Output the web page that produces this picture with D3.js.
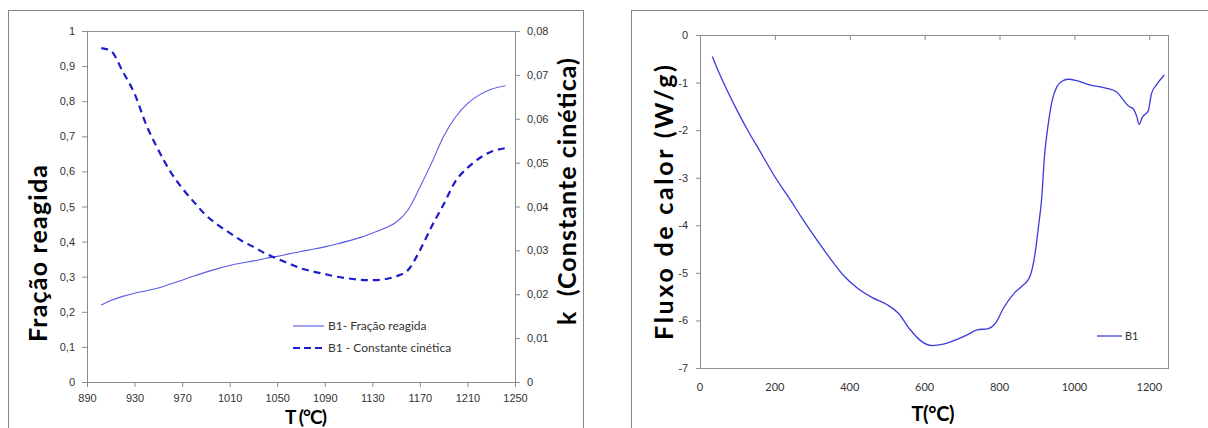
<!DOCTYPE html>
<html>
<head>
<meta charset="utf-8">
<script src="https://cdn.jsdelivr.net/npm/d3@7"></script>
<style>
  html, body { margin: 0; padding: 0; background: #fff; }
  svg { display: block; font-family: Lato, "Open Sans", sans-serif; }
  .tick text { fill: #333; font-size: 11px; }
  .title { font-weight: bold; fill: #000; white-space: pre; }
</style>
</head>
<body>
<svg id="chart" width="1208" height="428"></svg>
<script>
// ---- Kinetic data (left panel) ----
const tempKin = [902, 910, 920, 930, 940, 950, 960, 970, 980, 990, 1000, 1010, 1020, 1030, 1040,
  1050, 1060, 1070, 1080, 1090, 1100, 1110, 1120, 1130, 1140, 1150, 1160, 1170, 1180, 1190,
  1200, 1210, 1220, 1230, 1242];
const fracaoReagida = [0.219, 0.232, 0.244, 0.253, 0.260, 0.268, 0.279, 0.290, 0.302, 0.313, 0.323,
  0.332, 0.339, 0.345, 0.352, 0.358, 0.365, 0.372, 0.378, 0.385, 0.393, 0.402, 0.412, 0.424,
  0.437, 0.455, 0.490, 0.555, 0.625, 0.700, 0.755, 0.793, 0.818, 0.834, 0.844];
const constanteCinetica = [0.0761, 0.0755, 0.0708, 0.0657, 0.0585, 0.0529, 0.0480, 0.0442, 0.0410,
  0.0380, 0.0358, 0.0340, 0.0322, 0.0308, 0.0293, 0.0281, 0.0270, 0.0259, 0.0252, 0.0246,
  0.0240, 0.0236, 0.0233, 0.0232, 0.0234, 0.0241, 0.0255, 0.0300, 0.0355, 0.0405, 0.0458,
  0.0488, 0.0510, 0.0525, 0.0533];
const kinXTicks = [890, 930, 970, 1010, 1050, 1090, 1130, 1170, 1210, 1250];
const fracTicks = [0, 0.1, 0.2, 0.3, 0.4, 0.5, 0.6, 0.7, 0.8, 0.9, 1];
const kTicks = [0, 0.01, 0.02, 0.03, 0.04, 0.05, 0.06, 0.07, 0.08];

// ---- DSC heat flow data (right panel) ----
const tempDsc = [33, 50, 71, 100, 130, 160, 200, 220, 240, 270, 300, 350, 383, 420, 460, 500, 530,
  560, 590, 620, 650, 680, 712, 740, 770, 790, 810, 840, 860, 880, 895, 904, 913, 920, 930,
  940, 953, 970, 985, 1006, 1040, 1086, 1113, 1131, 1144, 1157, 1166, 1173, 1182, 1190, 1197,
  1206, 1220, 1240];
const fluxoCalor = [-0.45, -0.78, -1.14, -1.60, -2.04, -2.44, -2.98, -3.22, -3.45, -3.82, -4.17,
  -4.72, -5.05, -5.32, -5.52, -5.67, -5.85, -6.18, -6.43, -6.53, -6.50, -6.42, -6.31, -6.20,
  -6.17, -6.05, -5.75, -5.42, -5.28, -5.10, -4.59, -4.03, -3.40, -2.55, -1.88, -1.40, -1.09,
  -0.96, -0.93, -0.96, -1.05, -1.12, -1.20, -1.37, -1.49, -1.55, -1.70, -1.88, -1.72, -1.66,
  -1.60, -1.23, -1.04, -0.84];
const dscXTicks = [0, 200, 400, 600, 800, 1000, 1200];
const dscYTicks = [0, -1, -2, -3, -4, -5, -6, -7];

const svg = d3.select("#chart");
const frameColor = "#878787";
const axisColor = "#8c8c8c";
const comma = v => String(+v.toFixed(2)).replace(".", ",");

// ================= Left panel =================
svg.append("rect").attr("x", 8.5).attr("y", 10.5).attr("width", 575).attr("height", 440)
  .attr("fill", "#fff").attr("stroke", frameColor);

const L = { left: 87, right: 515, top: 31, bottom: 382 };
const xK = d3.scaleLinear().domain([890, 1250]).range([L.left, L.right]);
const yF = d3.scaleLinear().domain([0, 1]).range([L.bottom, L.top]);
const yK = d3.scaleLinear().domain([0, 0.08]).range([L.bottom, L.top]);

// plot-area top border
svg.append("line").attr("x1", L.left).attr("x2", L.right).attr("y1", L.top + 0.5).attr("y2", L.top + 0.5)
  .attr("stroke", axisColor);

function styleAxis(g) {
  g.select(".domain").attr("stroke", axisColor);
  g.selectAll(".tick line").attr("stroke", axisColor);
}

svg.append("g").attr("transform", `translate(0,${L.bottom})`)
  .call(d3.axisBottom(xK).tickValues(kinXTicks).tickSizeInner(5).tickSizeOuter(0).tickPadding(7).tickFormat(d => d))
  .call(styleAxis);
svg.append("g").attr("transform", `translate(${L.left},0)`)
  .call(d3.axisLeft(yF).tickValues(fracTicks).tickSizeInner(5).tickSizeOuter(0).tickPadding(7).tickFormat(comma))
  .call(styleAxis);
svg.append("g").attr("transform", `translate(${L.right},0)`)
  .call(d3.axisRight(yK).tickValues(kTicks).tickSizeInner(5).tickSizeOuter(0).tickPadding(7).tickFormat(comma))
  .call(styleAxis);

const kin = tempKin.map((t, i) => ({ t, f: fracaoReagida[i], k: constanteCinetica[i] }));
svg.append("path").datum(kin)
  .attr("fill", "none").attr("stroke", "#5a5ae6").attr("stroke-width", 1.1)
  .attr("d", d3.line().x(d => xK(d.t)).y(d => yF(d.f)).curve(d3.curveMonotoneX));
svg.append("path").datum(kin)
  .attr("fill", "none").attr("stroke", "#1c1ccc").attr("stroke-width", 2.2)
  .attr("stroke-dasharray", "7,5")
  .attr("d", d3.line().x(d => xK(d.t)).y(d => yK(d.k)).curve(d3.curveMonotoneX));

// legend
const legK = [
  { label: "B1- Fração reagida", color: "#5a5ae6", w: 1.1, dash: null, y: 326 },
  { label: "B1 - Constante cinética", color: "#1c1ccc", w: 2.2, dash: "7,4", y: 348 }
];
legK.forEach(d => {
  svg.append("line").attr("x1", 293).attr("x2", 324).attr("y1", d.y).attr("y2", d.y)
    .attr("stroke", d.color).attr("stroke-width", d.w).attr("stroke-dasharray", d.dash);
  svg.append("text").attr("x", 328).attr("y", d.y + 4).attr("font-size", 12).attr("fill", "#333")
    .text(d.label);
});

// axis titles
svg.append("text").attr("class", "title").attr("x", 306).attr("y", 424).attr("text-anchor", "middle")
  .attr("font-size", 19).attr("textLength", 42).text("T (°C)");
svg.append("text").attr("class", "title").attr("transform", "translate(47,253.5) rotate(-90)")
  .attr("text-anchor", "middle").attr("font-size", 25).attr("textLength", 177).text("Fração reagida");
svg.append("text").attr("class", "title").attr("transform", "translate(576,191.5) rotate(-90)")
  .attr("text-anchor", "middle").attr("font-size", 25).attr("textLength", 267).text("k  (Constante cinética)");

// ================= Right panel =================
svg.append("rect").attr("x", 631.5).attr("y", 10.5).attr("width", 600).attr("height", 440)
  .attr("fill", "#fff").attr("stroke", frameColor);

const R = { left: 700, right: 1168, top: 35, bottom: 368 };
const xD = d3.scaleLinear().domain([0, 1250]).range([R.left, R.right]);
const yD = d3.scaleLinear().domain([-7, 0]).range([R.bottom, R.top]);

svg.append("rect").attr("x", R.left + 0.5).attr("y", R.top + 0.5)
  .attr("width", R.right - R.left).attr("height", R.bottom - R.top)
  .attr("fill", "none").attr("stroke", axisColor);

// category axis crosses at 0 (top), ticks hang into the plot; labels sit below the plot
svg.append("g").attr("transform", `translate(0,${R.top})`)
  .call(d3.axisBottom(xD).tickValues(dscXTicks).tickSizeInner(5).tickSizeOuter(0).tickFormat(""))
  .call(styleAxis);
svg.append("g").selectAll("text").data(dscXTicks).join("text")
  .attr("x", d => xD(d)).attr("y", 391).attr("text-anchor", "middle")
  .attr("font-size", 11).attr("fill", "#333").text(d => d);
svg.append("g").attr("transform", `translate(${R.left},0)`)
  .call(d3.axisLeft(yD).tickValues(dscYTicks).tickSizeInner(4).tickSizeOuter(0).tickPadding(8).tickFormat(d => String(d)))
  .call(styleAxis);

const dsc = tempDsc.map((t, i) => ({ t, v: fluxoCalor[i] }));
svg.append("path").datum(dsc)
  .attr("fill", "none").attr("stroke", "#3b3bdc").attr("stroke-width", 1.3)
  .attr("d", d3.line().x(d => xD(d.t)).y(d => yD(d.v)).curve(d3.curveMonotoneX));

svg.append("line").attr("x1", 1097).attr("x2", 1122).attr("y1", 336).attr("y2", 336)
  .attr("stroke", "#3b3bdc").attr("stroke-width", 1.3);
svg.append("text").attr("x", 1125).attr("y", 340).attr("font-size", 11).attr("fill", "#333").text("B1");

svg.append("text").attr("class", "title").attr("x", 933).attr("y", 421).attr("text-anchor", "middle")
  .attr("font-size", 20).attr("textLength", 43).text("T(°C)");
svg.append("text").attr("class", "title").attr("transform", "translate(673,202.5) rotate(-90)")
  .attr("text-anchor", "middle").attr("font-size", 25).attr("textLength", 275).text("Fluxo de calor (W/g)");
</script>
</body>
</html>
